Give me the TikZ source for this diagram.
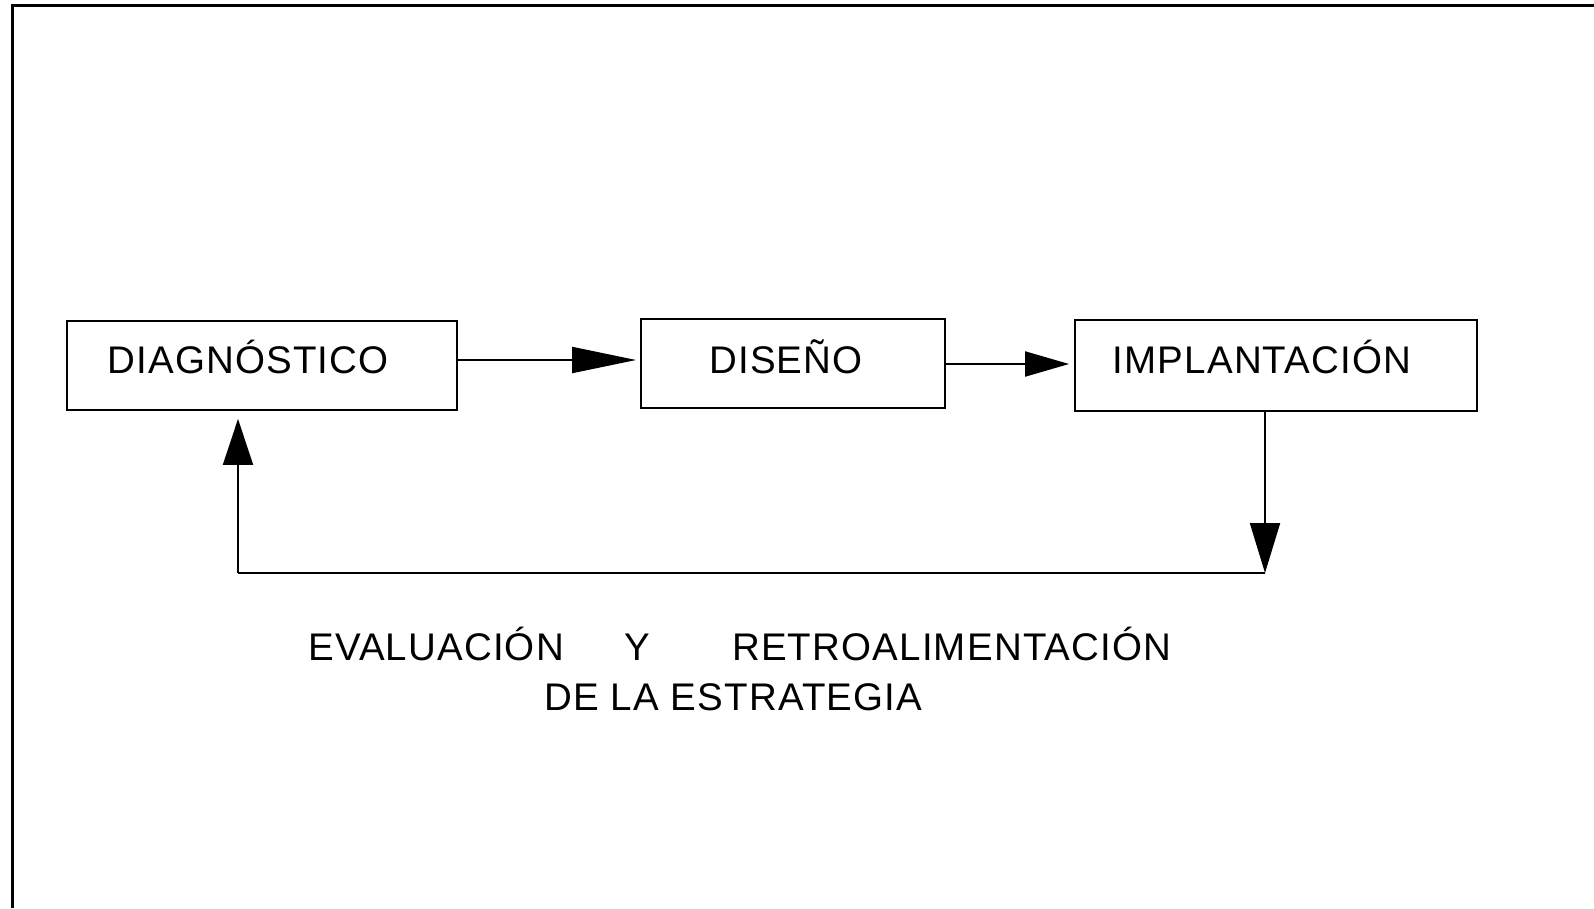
\documentclass[tikz,border=0pt]{standalone}
\usepackage{fontspec}
\setmainfont[LetterSpace=3]{Liberation Sans}
\usetikzlibrary{arrows.meta}
\begin{document}
\begin{tikzpicture}[x=1pt,y=-1pt,
  box/.style={draw,line width=1.8pt,rectangle,inner sep=0pt},
  lbl/.style={inner sep=0pt,anchor=base,font=\fontsize{38.5}{40}\selectfont},
  txt/.style={inner sep=0pt,anchor=base west,font=\fontsize{38.5}{40}\selectfont},
  conn/.style={line width=2pt},
]
\useasboundingbox (0,0) rectangle (1594,908);
\fill[white] (0,0) rectangle (1594,908);
% frame
\draw[line width=3pt] (12,908) -- (12,5) -- (1594,5);
% boxes
\node[box,minimum width=390pt,minimum height=89pt] (b1) at (262,365.5) {};
\node[box,minimum width=304pt,minimum height=89pt] (b2) at (793,363.5) {};
\node[box,minimum width=402pt,minimum height=91pt] (b3) at (1276,365.5) {};
\node[lbl] (t1) at (248,373) {DIAGNÓSTICO};
\node[lbl] (t2) at (786,373) {DISEÑO};
\node[lbl] (t3) at (1262,373) {IMPLANTACIÓN};
% connectors
\coordinate (c1) at (1265,573);
\coordinate (c2) at (238,573);
\draw[conn,-{Triangle[length=64pt,width=26pt]},shorten >=4pt] (b1.east |- 0,360) -- (b2.west |- 0,360);
\draw[conn,-{Triangle[length=44pt,width=25pt]},shorten >=5pt] (b2.east |- 0,364) -- (b3.west |- 0,364);
\draw[conn,-{Triangle[length=50pt,width=30pt]}] (b3.south -| c1) -- (c1);
\draw[conn] (c1) -- (c2);
\draw[conn,-{Triangle[length=46pt,width=30pt]},shorten >=8pt] (c2) -- (b1.south -| c2);
% caption
\node[txt] (e1) at (308,660) {EVALUACIÓN};
\node[lbl] (e2) at (637,660) {Y};
\node[txt] (e3) at (732,660) {RETROALIMENTACIÓN};
\node[txt] (e4) at (544,710) {DE LA ESTRATEGIA};
\end{tikzpicture}
\end{document}
